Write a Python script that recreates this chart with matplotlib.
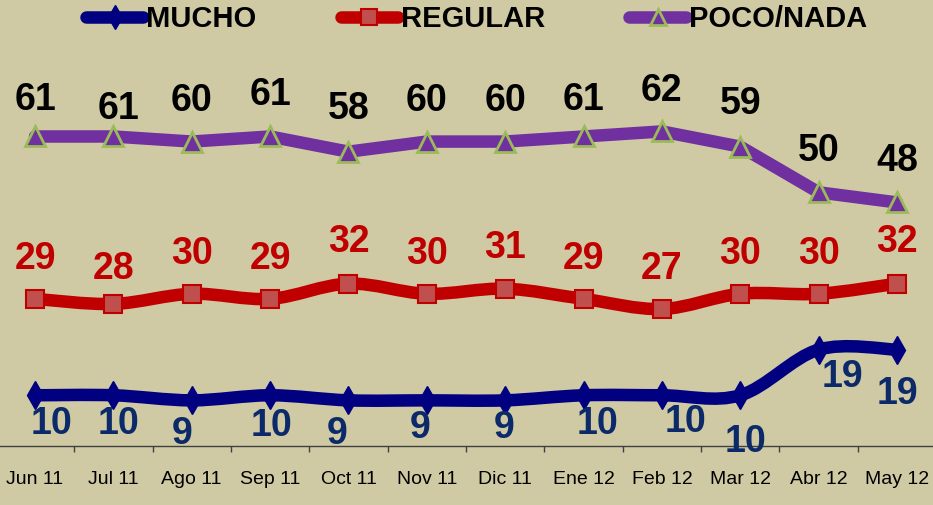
import matplotlib
matplotlib.use("Agg")
import matplotlib.pyplot as plt
from matplotlib.path import Path
from matplotlib.patches import PathPatch
from matplotlib.lines import Line2D

months = ["Jun 11", "Jul 11", "Ago 11", "Sep 11", "Oct 11", "Nov 11",
          "Dic 11", "Ene 12", "Feb 12", "Mar 12", "Abr 12", "May 12"]
mucho = [10, 10, 9, 10, 9, 9, 9, 10, 10, 10, 19, 19]
regular = [29, 28, 30, 29, 32, 30, 31, 29, 27, 30, 30, 32]
poco_nada = [61, 61, 60, 61, 58, 60, 60, 61, 62, 59, 50, 48]

# label offsets (points) as placed by hand in the original
off_mucho = [(12, -21), (4, -21), (-7, -24), (1, -22), (-8, -24), (-5, -20),
             (-1, -20), (10, -21), (17, -19), (4, -34), (17, -20), (0, -32)]
off_regular = [(0, 29), (0, 25), (0, 29), (0, 29), (0, 30), (0, 29),
               (0, 29), (0, 29), (0, 29), (0, 29), (0, 29), (0, 30)]
off_poco = [(0, 26), (4, 20), (0, 29), (0, 30), (0, 31), (0, 29),
            (0, 29), (0, 26), (0, 29), (0, 31), (0, 30), (0, 30)]

BG = "#CFCAA4"
FONT = "Liberation Sans"


def smooth_path(xs, ys, smooth=True):
    # Excel-style smoothed line: cubic Bezier through the data points
    pts = list(zip(xs, ys))
    if not smooth:
        return Path(pts)
    n = len(pts)
    verts = [pts[0]]
    codes = [Path.MOVETO]
    for i in range(n - 1):
        p0 = pts[i - 1] if i > 0 else pts[i]
        p1 = pts[i]
        p2 = pts[i + 1]
        p3 = pts[i + 2] if i + 2 < n else pts[i + 1]
        c1 = (p1[0] + (p2[0] - p0[0]) / 6, p1[1] + (p2[1] - p0[1]) / 6)
        c2 = (p2[0] - (p3[0] - p1[0]) / 6, p2[1] - (p3[1] - p1[1]) / 6)
        verts += [c1, c2, p2]
        codes += [Path.CURVE4] * 3
    return Path(verts, codes)


fig = plt.figure(figsize=(9.33, 5.05), dpi=100, facecolor=BG)
ax = fig.add_axes([0, 0.1168, 1, 0.8832])
ax.set_facecolor(BG)

x = list(range(len(months)))

series = [
    (poco_nada, "#7030A0", False,
     dict(marker="^", markersize=14, markerfacecolor="#7030A0",
          markeredgecolor="#9BBB59", markeredgewidth=2), "black", off_poco),
    (regular, "#C00000", True,
     dict(marker="s", markersize=13.5, markerfacecolor="#C0504D",
          markeredgecolor="#C00000", markeredgewidth=1.5), "#C00000", off_regular),
    (mucho, "#000080", True,
     dict(marker="d", markersize=14, markerfacecolor="#000080",
          markeredgecolor="#000080", markeredgewidth=1), "#0C2A6A", off_mucho),
]

for vals, col, smooth, mk, lab_col, offs in series:
    patch = PathPatch(smooth_path(x, vals, smooth), facecolor="none", edgecolor=col,
                      linewidth=9, capstyle="round", joinstyle="round", zorder=2)
    ax.add_patch(patch)
    ax.plot(x, vals, linestyle="none", zorder=3, **mk)
    for xi, v, (dx, dy) in zip(x, vals, offs):
        ax.annotate(str(v), (xi, v), xytext=(dx, dy), textcoords="offset points",
                    ha="center", va="center", fontsize=27, fontweight="bold",
                    color=lab_col, family=FONT, zorder=4)

ax.set_xlim(-0.447, 11.46)
ax.set_ylim(0, 87.9)

for s in ["top", "right", "left"]:
    ax.spines[s].set_visible(False)
ax.spines["bottom"].set_color("#404040")
ax.spines["bottom"].set_linewidth(1)
ax.set_yticks([])
ax.set_xticks(x)
ax.set_xticklabels(months, fontsize=14, family=FONT, color="black")
ax.set_xticks([i + 0.5 for i in x[:-1]], minor=True)
ax.tick_params(axis="x", which="major", length=0, pad=18)
ax.tick_params(axis="x", which="minor", length=4, width=1, color="#404040")

handles = [
    Line2D([], [], color="#000080", linewidth=9, solid_capstyle="round",
           marker="d", markersize=12, markerfacecolor="#000080", markeredgecolor="#000080"),
    Line2D([], [], color="#C00000", linewidth=9, solid_capstyle="round",
           marker="s", markersize=12, markerfacecolor="#C0504D", markeredgecolor="#C00000",
           markeredgewidth=1.5),
    Line2D([], [], color="#7030A0", linewidth=9, solid_capstyle="round",
           marker="^", markersize=12, markerfacecolor="#7030A0", markeredgecolor="#9BBB59",
           markeredgewidth=2),
]
fig.legend(handles, ["MUCHO", "REGULAR", "POCO/NADA"], loc="center",
           bbox_to_anchor=(0.511, 0.962), ncol=3, frameon=False,
           prop=dict(family=FONT, weight="bold", size=21),
           handlelength=1.95, handletextpad=0.1, columnspacing=2.9)

fig.savefig("out.png", dpi=100, facecolor=BG)
